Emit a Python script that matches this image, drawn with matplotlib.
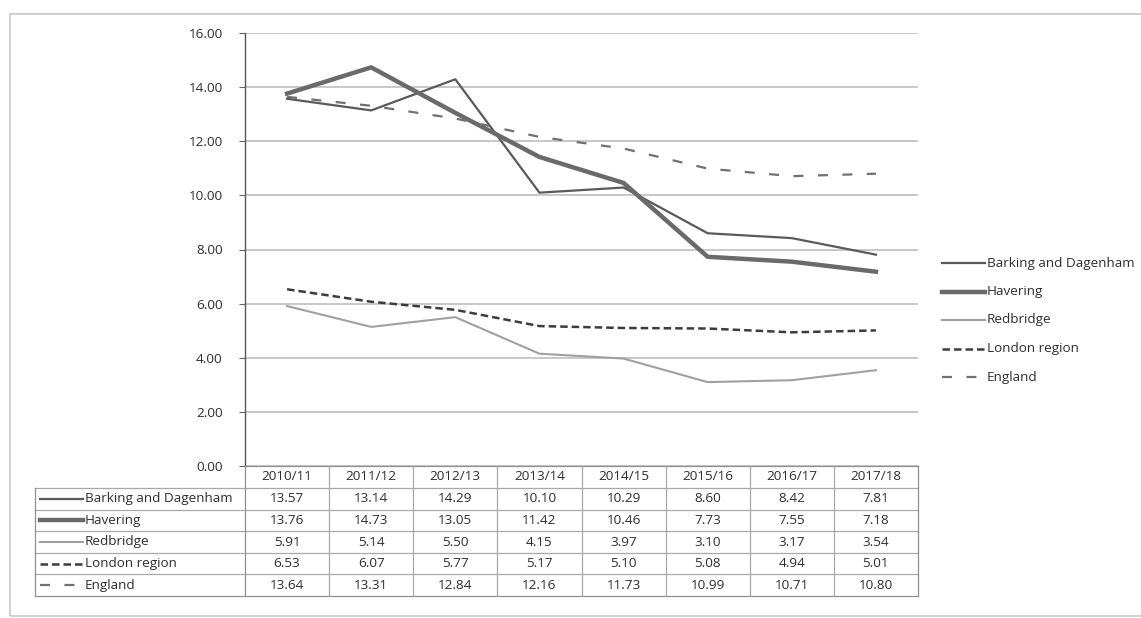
import matplotlib
matplotlib.use("Agg")
import matplotlib.pyplot as plt
from matplotlib.lines import Line2D
from matplotlib.patches import Rectangle

# ---- data -------------------------------------------------------------
years = ["2010/11", "2011/12", "2012/13", "2013/14", "2014/15",
         "2015/16", "2016/17", "2017/18"]
series_names = ["Barking and Dagenham", "Havering", "Redbridge",
                "London region", "England"]
barking = [13.57, 13.14, 14.29, 10.10, 10.29, 8.60, 8.42, 7.81]
havering = [13.76, 14.73, 13.05, 11.42, 10.46, 7.73, 7.55, 7.18]
redbridge = [5.91, 5.14, 5.50, 4.15, 3.97, 3.10, 3.17, 3.54]
london = [6.53, 6.07, 5.77, 5.17, 5.10, 5.08, 4.94, 5.01]
england = [13.64, 13.31, 12.84, 12.16, 11.73, 10.99, 10.71, 10.80]
y_ticks = [0, 2, 4, 6, 8, 10, 12, 14, 16]

series_values = [barking, havering, redbridge, london, england]

# ---- styles -----------------------------------------------------------
styles = [
    dict(color="#5a5a5a", lw=1.6, ls="-"),
    dict(color="#6a6a6a", lw=3.2, ls="-"),
    dict(color="#a0a0a0", lw=1.5, ls="-"),
    dict(color="#3c3c3c", lw=1.8, ls=(0, (3.0, 1.6))),
    dict(color="#707070", lw=1.6, ls=(0, (4.5, 6.5))),
]

W, H = 1141, 618
fig = plt.figure(figsize=(W / 100, H / 100), dpi=100)
fig.patch.set_facecolor("white")

plt.rcParams["font.family"] = ["Open Sans", "DejaVu Sans"]
TXT = "#2e2e2e"
FS = 9.7


def fx(x):
    return x / W


def fy(y):
    return 1 - y / H


# plot area
ax_l, ax_r, ax_t, ax_b = 245, 918, 33, 466
ax = fig.add_axes([fx(ax_l), fy(ax_b), fx(ax_r - ax_l), (ax_b - ax_t) / H])
ax.set_xlim(-0.5, len(years) - 0.5)
ax.set_ylim(0, 16)
ax.set_yticks(y_ticks)
ax.set_yticklabels([f"{v:.2f}" for v in y_ticks], fontsize=FS, color=TXT)
ax.set_xticks([])
for s in ["top", "right", "bottom"]:
    ax.spines[s].set_visible(False)
ax.spines["left"].set_color("#555555")
ax.spines["left"].set_linewidth(1.0)
ax.tick_params(axis="y", length=4, width=0.8, color="#666666", pad=12)
ax.yaxis.grid(True, color="#c4c4c4", lw=1.3)
ax.set_axisbelow(True)

xs = list(range(len(years)))
for vals, st in zip(series_values, styles):
    ax.plot(xs, vals, color=st["color"], lw=st["lw"], linestyle=st["ls"],
            solid_joinstyle="round", zorder=3)

# ---- data table -------------------------------------------------------
col_w = (ax_r - ax_l) / len(years)
hdr_t, hdr_b = 466, 488
row_h = (596 - hdr_b) / len(series_names)
lab_l = 35
grid_c = "#a8a8a8"


def hline(x0, x1, y, c=grid_c, lw=0.9):
    fig.add_artist(Line2D([fx(x0), fx(x1)], [fy(y), fy(y)], color=c, lw=lw))


def vline(x, y0, y1, c=grid_c, lw=0.9):
    fig.add_artist(Line2D([fx(x), fx(x)], [fy(y0), fy(y1)], color=c, lw=lw))


# header row
for i, yr in enumerate(years):
    cx = ax_l + (i + 0.5) * col_w
    fig.text(fx(cx), fy((hdr_t + hdr_b) / 2), yr, ha="center", va="center",
             fontsize=FS, color=TXT)
hline(ax_l, ax_r, hdr_t, c="#909090")
hline(lab_l, ax_r, hdr_b)
for r in range(1, len(series_names) + 1):
    hline(lab_l, ax_r, hdr_b + r * row_h,
          c=grid_c if r < len(series_names) else "#909090")
for i in range(len(years) + 1):
    vline(ax_l + i * col_w, hdr_t, 596,
          c="#909090" if i in (0, len(years)) else grid_c)
vline(lab_l, hdr_b, 596, c="#909090")

for r, (name, vals, st) in enumerate(zip(series_names, series_values, styles)):
    cy = hdr_b + (r + 0.5) * row_h
    fig.add_artist(Line2D([fx(40), fx(83)], [fy(cy), fy(cy)], color=st["color"],
                          lw=st["lw"], linestyle=st["ls"]))
    fig.text(fx(85), fy(cy), name, ha="left", va="center", fontsize=FS, color=TXT)
    for i, v in enumerate(vals):
        cx = ax_l + (i + 0.5) * col_w
        fig.text(fx(cx), fy(cy), f"{v:.2f}", ha="center", va="center",
                 fontsize=FS, color=TXT)

# ---- legend -----------------------------------------------------------
leg_y0, leg_dy = 263, 28.5
for r, (name, st) in enumerate(zip(series_names, styles)):
    y = leg_y0 + r * leg_dy
    fig.add_artist(Line2D([fx(942), fx(985)], [fy(y), fy(y)], color=st["color"],
                          lw=st["lw"], linestyle=st["ls"]))
    fig.text(fx(987), fy(y), name, ha="left", va="center", fontsize=FS, color=TXT)

# ---- chart frame ------------------------------------------------------
fig.add_artist(Rectangle((fx(10), fy(616)), fx(1160 - 10), (616 - 14) / H,
                         fill=False, edgecolor="#c8c8c8", lw=1.2,
                         transform=fig.transFigure))

fig.savefig("out.png", dpi=100, facecolor="white")
